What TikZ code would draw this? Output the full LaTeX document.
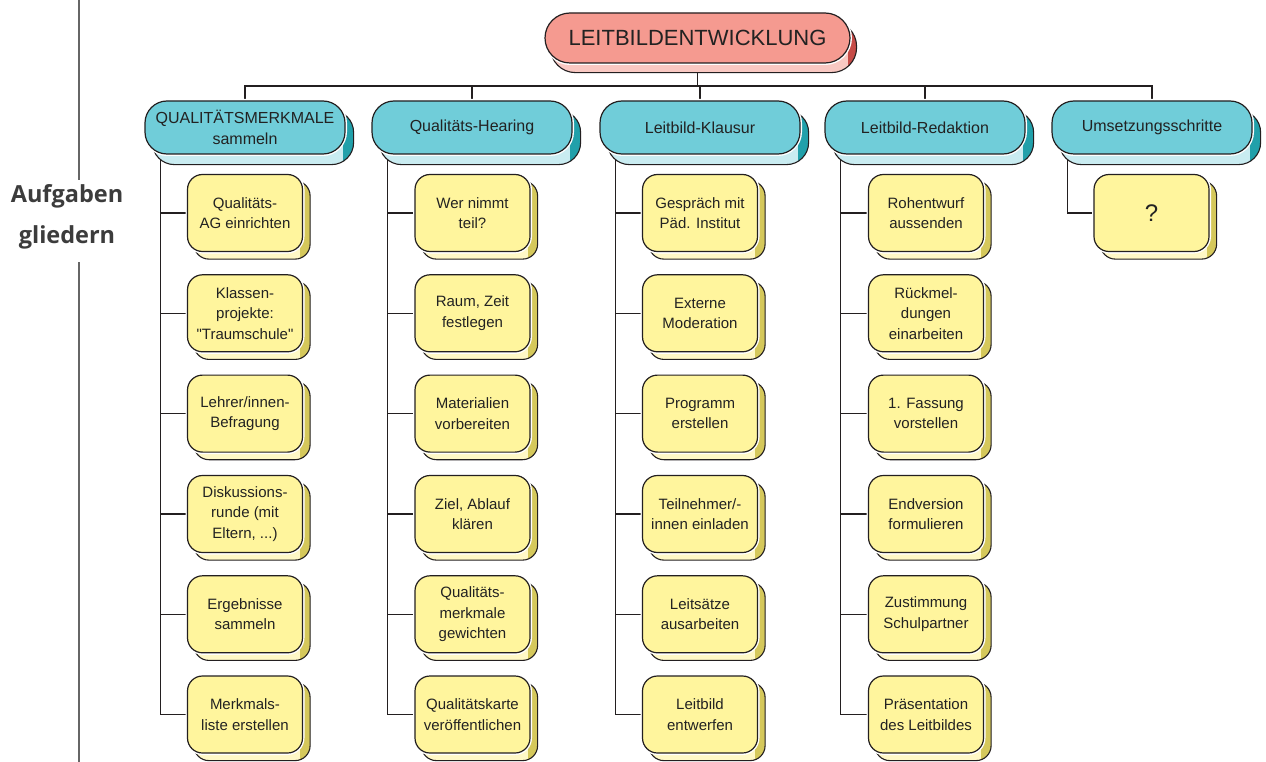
\documentclass[tikz,border=0pt]{standalone}
\usepackage{fontspec}
\setmainfont{Liberation Sans}
\newfontfamily\sidefont{Open Sans}
\usetikzlibrary{calc}

\definecolor{linec}{HTML}{231F20}
\definecolor{txtc}{HTML}{222222}
\definecolor{topfill}{HTML}{F59A90}
\definecolor{toplight}{HTML}{F9C8C2}
\definecolor{topdark}{HTML}{C64B47}
\definecolor{headfill}{HTML}{70CDD9}
\definecolor{headlight}{HTML}{C9ECF1}
\definecolor{headdark}{HTML}{21A0AA}
\definecolor{yfill}{HTML}{FFF59D}
\definecolor{ylight}{HTML}{FFF8C6}
\definecolor{ydark}{HTML}{D5C85B}
\definecolor{sidec}{HTML}{3C3C3C}

\pgfdeclarelayer{lines}
\pgfdeclarelayer{back}
\pgfsetlayers{lines,back,main}

% solid block: light bottom face, dark right face, drawn behind the front node
% #1 node, #2 dx, #3 dy, #4 corner radius, #5 light colour, #6 dark colour
\newcommand\extrude[6]{%
  \begin{pgfonlayer}{back}
    \begin{scope}
      \clip[rounded corners=#4] ([shift={(#2pt,-#3pt)}]#1.south west) rectangle ([shift={(#2pt,-#3pt)}]#1.north east);
      \fill[#5] ([shift={(-5pt,-30pt)}]#1.south west) rectangle ([shift={(30pt,5pt)}]#1.north east);
      \fill[#6] ([xshift=-3pt]#1.north east) rectangle ([shift={(30pt,-30pt)}]#1.south east);
    \end{scope}
    \draw[line width=1.1pt, draw=linec, rounded corners=#4] ([shift={(#2pt,-#3pt)}]#1.south west) rectangle ([shift={(#2pt,-#3pt)}]#1.north east);
  \end{pgfonlayer}}

\newcommand\topblock[3]{\node[topbox] (#1) at #2 {#3};\extrude{#1}{6}{9}{25pt}{toplight}{topdark}}
\newcommand\headblock[3]{\node[headbox] (#1) at #2 {#3};\extrude{#1}{8}{10}{22pt}{headlight}{headdark}}
\newcommand\taskblock[3]{\node[taskbox] (#1) at #2 {#3};\extrude{#1}{7}{7}{15pt}{ylight}{ydark}}

\tikzset{
  front/.style={rectangle, draw=linec, line width=1.2pt, text=txtc, align=center, inner sep=0pt,
    preaction={draw=white, line width=4pt}},
  topbox/.style={front, fill=topfill, rounded corners=25pt, minimum width=305pt, minimum height=50pt,
    font=\fontsize{22}{26}\selectfont},
  headbox/.style={front, fill=headfill, rounded corners=22pt, minimum width=200pt, minimum height=53pt,
    font=\fontsize{16}{21}\selectfont},
  taskbox/.style={front, fill=yfill, rounded corners=15pt, minimum width=115pt, minimum height=77pt,
    font=\fontsize{15}{20.5}\selectfont},
  conn/.style={draw=linec, line width=1.6pt},
  sideline/.style={draw=black!60, line width=1.1pt},
}

\begin{document}
\begin{tikzpicture}[x=1pt, y=-1pt]
\useasboundingbox (0,0) rectangle (1266,762);
\begin{pgfonlayer}{lines}
  \fill[white] (0,0) rectangle (1266,762);
\end{pgfonlayer}

% side label with split rule
\node[font=\sidefont\bfseries\fontsize{23.5}{41}\selectfont, text=sidec, align=center] (side) at (67,217) {Aufgaben\\gliedern};
\coordinate (ruletop) at (79,0);
\coordinate (rulebot) at (79,762);
\draw[sideline] (ruletop) -- (79,180);
\draw[sideline] (79,262) -- (rulebot);

% root and phases
\topblock{root}{(697.5,38)}{LEITBILDENTWICKLUNG}
\headblock{h1}{(245,127.5)}{QUALITÄTSMERKMALE\\sammeln}
\headblock{h2}{(472,127.5)}{Qualitäts-Hearing}
\headblock{h3}{(700,127.5)}{Leitbild-Klausur}
\headblock{h4}{(925,127.5)}{Leitbild-Redaktion}
\headblock{h5}{(1152,127.5)}{Umsetzungsschritte}

% tasks, phase 1
\taskblock{a1}{(245,213)}{Qualitäts-\\AG einrichten}
\taskblock{a2}{(245,313.3)}{Klassen-\\projekte:\\\textquotedbl Traumschule\textquotedbl}
\taskblock{a3}{(245,413.6)}{Lehrer/innen-\\Befragung}
\taskblock{a4}{(245,514)}{Diskussions-\\runde (mit\\Eltern, ...)}
\taskblock{a5}{(245,614.3)}{Ergebnisse\\sammeln}
\taskblock{a6}{(245,714.5)}{Merkmals-\\liste erstellen}

% tasks, phase 2
\taskblock{b1}{(472.5,213)}{Wer nimmt\\teil?}
\taskblock{b2}{(472.5,313.3)}{Raum, Zeit\\festlegen}
\taskblock{b3}{(472.5,413.6)}{Materialien\\vorbereiten}
\taskblock{b4}{(472.5,514)}{Ziel, Ablauf\\klären}
\taskblock{b5}{(472.5,614.3)}{Qualitäts-\\merkmale\\gewichten}
\taskblock{b6}{(472.5,714.5)}{Qualitätskarte\\veröffentlichen}

% tasks, phase 3
\taskblock{c1}{(700,213)}{Gespräch mit\\Päd. Institut}
\taskblock{c2}{(700,313.3)}{Externe\\Moderation}
\taskblock{c3}{(700,413.6)}{Programm\\erstellen}
\taskblock{c4}{(700,514)}{Teilnehmer/-\\innen einladen}
\taskblock{c5}{(700,614.3)}{Leitsätze\\ausarbeiten}
\taskblock{c6}{(700,714.5)}{Leitbild\\entwerfen}

% tasks, phase 4
\taskblock{d1}{(926,213)}{Rohentwurf\\aussenden}
\taskblock{d2}{(926,313.3)}{Rückmel-\\dungen\\einarbeiten}
\taskblock{d3}{(926,413.6)}{1. Fassung\\vorstellen}
\taskblock{d4}{(926,514)}{Endversion\\formulieren}
\taskblock{d5}{(926,614.3)}{Zustimmung\\Schulpartner}
\taskblock{d6}{(926,714.5)}{Präsentation\\des Leitbildes}

% tasks, phase 5
\node[taskbox, font=\fontsize{24}{28}\selectfont] (e1) at (1151.5,213) {?};
\extrude{e1}{7}{7}{15pt}{ylight}{ydark}

% connectors
\begin{pgfonlayer}{lines}
  \coordinate (bus) at (0,86);
  \draw[conn] (root.south) -- (root.south |- bus);
  \draw[conn] (h1.north) -- (h1.north |- bus) -- (h5.north |- bus) -- (h5.north);
  \foreach \h in {h2,h3,h4} \draw[conn] (\h.north) -- (\h.north |- bus);

  \foreach \h/\c in {h1/a, h2/b, h3/c, h4/d} {
    \coordinate (t\h) at ([xshift=16pt]\h.south west);
    \draw[conn] (t\h) -- (t\h |- \c6.west);
    \foreach \r in {1,...,6} \draw[conn] (t\h |- \c\r.west) -- (\c\r.west);
  }
  \coordinate (th5) at ([xshift=16pt]h5.south west);
  \draw[conn] (th5) |- (e1.west);
\end{pgfonlayer}
\end{tikzpicture}
\end{document}
